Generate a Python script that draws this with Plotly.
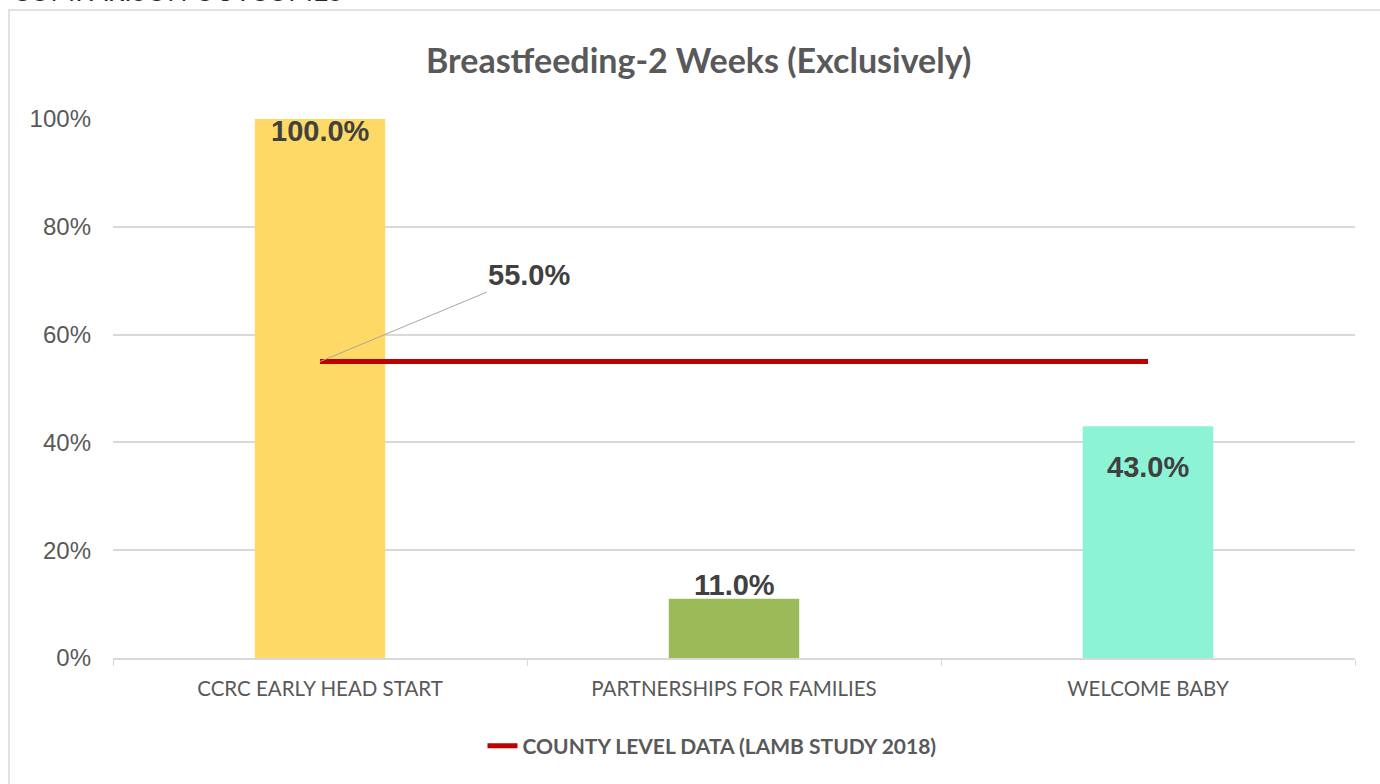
import plotly.graph_objects as go

categories = ["CCRC EARLY HEAD START", "PARTNERSHIPS FOR FAMILIES", "WELCOME BABY"]
values = [1.00, 0.11, 0.43]
bar_colors = ["#FFD966", "#9BBB59", "#8DF3D5"]
county_name = "COUNTY LEVEL DATA (LAMB STUDY 2018)"
county_value = 0.55
label_shift = [-12, 14, -41]
y_ticks = [0, 0.2, 0.4, 0.6, 0.8, 1.0]

W, H = 1380, 784
L, R, T, B = 113, 25, 119, 126
pw, ph = W - L - R, H - T - B

def px_x(x):
    return (x - L) / pw

def px_y(y):
    return 1 - (y - T) / ph

label_font = dict(family="Liberation Sans, Arial", size=29, color="#404040", weight="bold")

fig = go.Figure()
fig.add_trace(go.Bar(
    x=categories, y=values, marker=dict(color=bar_colors, line=dict(width=0)),
    width=0.315, showlegend=False, hoverinfo="skip"))
fig.add_trace(go.Scatter(
    x=categories, y=[county_value] * len(categories), mode="lines",
    line=dict(color="#C00000", width=5), name=county_name))

annotations = []
for c, v, s in zip(categories, values, label_shift):
    annotations.append(dict(
        x=c, y=v, text=f"{v*100:.1f}%", showarrow=False, yanchor="middle",
        yshift=s, font=label_font))
annotations.append(dict(
    x=categories[0], y=county_value, text=f"{county_value*100:.1f}%",
    showarrow=True, arrowhead=0, arrowwidth=1, arrowcolor="#A6A6A6",
    ax=209, ay=-87, font=label_font))
annotations.append(dict(
    xref="paper", yref="paper", x=px_x(698), y=px_y(60), text="Breastfeeding-2 Weeks (Exclusively)",
    showarrow=False, xanchor="center", yanchor="middle",
    font=dict(family="Lato", size=34, color="#595959", weight="bold")))
annotations.append(dict(
    xref="paper", yref="paper", x=px_x(10), y=px_y(9), text="COMPARISON OUTCOMES",
    showarrow=False, xanchor="left", yanchor="bottom",
    font=dict(family="Lato", size=26.5, color="#262626")))

fig.update_layout(
    width=W, height=H, margin=dict(l=L, r=R, t=T, b=B),
    paper_bgcolor="white", plot_bgcolor="white",
    annotations=annotations,
    shapes=[dict(type="rect", xref="paper", yref="paper",
                 x0=px_x(9), x1=px_x(1400), y0=px_y(10), y1=px_y(800),
                 line=dict(color="#D9D9D9", width=1.5), layer="below")],
    xaxis=dict(
        showgrid=False, showline=True, linecolor="#D9D9D9", linewidth=1.5,
        ticks="outside", tickson="boundaries", ticklen=6, tickcolor="#D9D9D9",
        ticklabelstandoff=12,
        tickfont=dict(family="Lato", size=20.5, color="#595959"), fixedrange=True),
    yaxis=dict(
        range=[0, 1], tickvals=y_ticks, tickformat=".0%",
        showgrid=True, gridcolor="#D9D9D9", gridwidth=1.5, zeroline=False,
        showline=False, ticks="", ticklabelstandoff=21,
        tickfont=dict(family="Liberation Sans, Arial", size=24, color="#595959")),
    legend=dict(orientation="h", x=px_x(712), xanchor="center", y=px_y(746), yanchor="middle",
                font=dict(family="Lato", size=21, color="#595959", weight="bold"),
                bgcolor="rgba(0,0,0,0)"),
    font=dict(family="Lato"),
)
fig.write_html("out.html", config={"displayModeBar": False},
               post_script="document.body.style.margin='0';document.body.style.overflow='hidden';")
